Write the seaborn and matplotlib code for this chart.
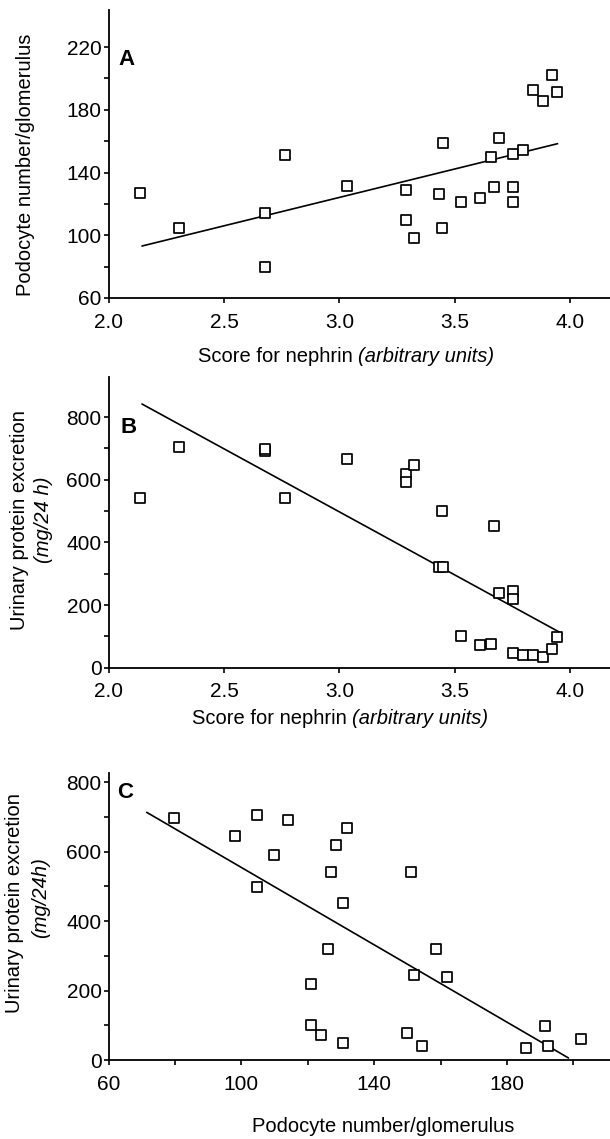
import numpy as np
import matplotlib
matplotlib.use("Agg")
import matplotlib.pyplot as plt
import seaborn as sns
from matplotlib.ticker import FixedLocator

# ---- data (one entry per patient) ----
nephrin_score = [2.135, 2.305, 2.676, 2.676, 2.766, 3.031, 3.290, 3.290, 3.322, 3.431,
                 3.446, 3.445, 3.527, 3.609, 3.654, 3.667, 3.690, 3.753, 3.750, 3.752,
                 3.795, 3.838, 3.881, 3.918, 3.942]
podocytes = [127.0, 104.8, 114.0, 79.6, 151.1, 131.7, 128.6, 109.9, 98.0, 126.1,
             158.6, 104.8, 121.0, 124.0, 150.0, 130.5, 161.8, 151.9, 121.0, 130.5,
             154.4, 192.4, 185.8, 202.4, 191.4]
protein = [543, 706, 692, 697, 543, 667, 619, 592, 646, 320,
           320, 499, 102, 72, 77, 451, 238, 245, 218, 48,
           41, 40, 34, 60, 97]

# x-extent over which each regression line is drawn
fit_range_a = [2.145, 3.944]
fit_range_b = [2.145, 3.951]
fit_range_c = [71.5, 198.5]

nephrin_ticks = [2.0, 2.5, 3.0, 3.5, 4.0]
nephrin_labels = ["2.0", "2.5", "3.0", "3.5", "4.0"]
pod_major = [60, 100, 140, 180, 220]
pod_minor = [80, 120, 160, 200]
prot_major = [0, 200, 400, 600, 800]
prot_minor = [100, 300, 500, 700]
podx_major = [60, 100, 140, 180]
podx_minor = [80, 120, 160, 200]

sns.set_style("ticks")
plt.rcParams.update({
    "font.family": ["Liberation Sans", "DejaVu Sans"],
    "axes.linewidth": 1.3,
    "axes.edgecolor": "black",
    "text.color": "black",
    "xtick.color": "black",
    "ytick.color": "black",
})

W, H = 610, 1139
fig = plt.figure(figsize=(W / 100, H / 100), dpi=100)
fig.patch.set_facecolor("white")
renderer = fig.canvas.get_renderer()


def px_rect(left, top, bottom, right=W):
    return [left / W, 1 - bottom / H, (right - left) / W, (bottom - top) / H]


def ftext(x, y, s, **kw):
    kw.setdefault("ha", "center")
    kw.setdefault("va", "center")
    return fig.text(x / W, 1 - y / H, s, **kw)


def mixed_text(xc, y, plain, italic, fontsize):
    """Centered one-line label: plain part followed by italic part."""
    t1 = ftext(0, y, plain, ha="left", fontsize=fontsize)
    t2 = ftext(0, y, italic, ha="left", fontsize=fontsize, fontstyle="italic")
    w1 = t1.get_window_extent(renderer).width
    w2 = t2.get_window_extent(renderer).width
    x0 = xc - (w1 + w2) / 2
    t1.set_x(x0 / W)
    t2.set_x((x0 + w1) / W)


axA = fig.add_axes(px_rect(108.5, 10, 298))
axB = fig.add_axes(px_rect(108.5, 376.7, 667.7))
axC = fig.add_axes(px_rect(108.5, 773.3, 1060))


def panel(ax, x, y, rng):
    slope, icpt = np.polyfit(x, y, 1)
    xs = np.array(rng)
    ax.plot(xs, slope * xs + icpt, color="black", lw=1.2, zorder=2)
    sns.scatterplot(x=x, y=y, marker="s", s=44, color="white", edgecolor="black",
                    linewidth=1.25, ax=ax, zorder=3, legend=False)
    sns.despine(ax=ax)
    ax.tick_params(axis="both", which="both", direction="out", length=3.5,
                   width=1.2, labelsize=15)
    ax.tick_params(axis="x", pad=7)
    ax.tick_params(axis="y", pad=1.5)
    ax.set_xlabel("")
    ax.set_ylabel("")
    ax.set_facecolor("white")


panel(axA, nephrin_score, podocytes, fit_range_a)
axA.set_xlim(2.0, 4.171)
axA.set_ylim(60, 243.6)
axA.set_xticks(nephrin_ticks, nephrin_labels)
axA.set_yticks(pod_major)
axA.yaxis.set_minor_locator(FixedLocator(pod_minor))

panel(axB, nephrin_score, protein, fit_range_b)
axB.set_xlim(2.0, 4.171)
axB.set_ylim(0, 929)
axB.set_xticks(nephrin_ticks, nephrin_labels)
axB.set_yticks(prot_major)
axB.yaxis.set_minor_locator(FixedLocator(prot_minor))

panel(axC, podocytes, protein, fit_range_c)
axC.set_xlim(60, 211)
axC.set_ylim(0, 826)
axC.set_xticks(podx_major)
axC.xaxis.set_minor_locator(FixedLocator(podx_minor))
axC.set_yticks(prot_major)
axC.yaxis.set_minor_locator(FixedLocator(prot_minor))

# panel letters
ftext(118.7, 59.3, "A", ha="left", fontsize=16, fontweight="bold")
ftext(121.0, 427.3, "B", ha="left", fontsize=16, fontweight="bold")
ftext(117.0, 792.7, "C", ha="left", fontsize=16, fontweight="bold")

# axis titles
lab = 14.5
mixed_text(346, 357, "Score for nephrin ", "(arbitrary units)", lab)
mixed_text(340, 718, "Score for nephrin ", "(arbitrary units)", lab)
ftext(383, 1126.5, "Podocyte number/glomerulus", fontsize=lab)

ftext(26, 165, "Podocyte number/glomerulus", rotation=90, fontsize=lab)
ftext(19.5, 520, "Urinary protein excretion", rotation=90, fontsize=lab)
ftext(43.8, 520, "(mg/24 h)", rotation=90, fontsize=lab, fontstyle="italic")
ftext(14.6, 903, "Urinary protein excretion", rotation=90, fontsize=lab)
ftext(41.0, 898, "(mg/24h)", rotation=90, fontsize=lab, fontstyle="italic")

fig.savefig("out.png", dpi=100, facecolor="white")
